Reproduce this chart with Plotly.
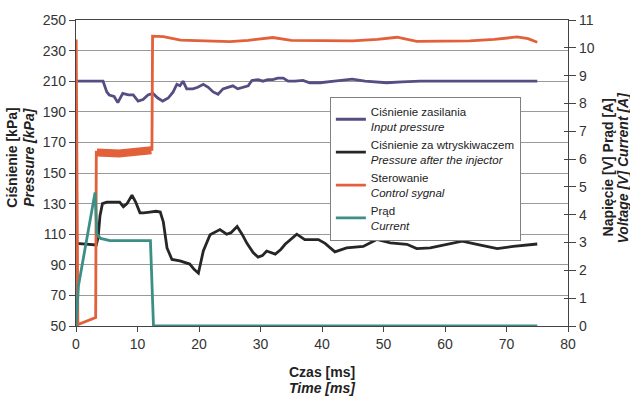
import plotly.graph_objects as go

# ---- data ----
t_input = [0, 4.4, 5.0, 5.4, 6.2, 6.8, 7.6, 8.5, 9.3, 10.1, 10.9, 11.7, 12.5, 13.3, 14.1, 15.0, 15.8,
           16.4, 16.9, 17.4, 18.0, 19.0, 19.8, 20.7, 21.5, 22.3, 23.1, 23.9, 24.7, 25.5, 26.3, 27.2,
           28.0, 28.6, 29.6, 30.4, 31.2, 32.0, 32.8, 33.7, 34.5, 35.6, 36.9, 38.0, 39.7, 42.0, 44.9,
           47.0, 50.5, 53.0, 56.0, 60.0, 65.0, 70.0, 75.0]
p_input = [210, 210, 203, 201, 200, 196, 202, 201, 201, 197, 198, 201, 202, 199, 197, 199, 203,
           208, 207, 210, 205, 205, 206, 208, 206, 203, 201.5, 205, 206, 207, 205, 206,
           207, 210.5, 211, 210, 211, 211, 212, 212, 210, 210, 210.5, 209, 209, 210, 211.3,
           210, 209, 209.5, 210, 210, 210, 210, 210]

t_after = [0, 3.3, 3.6, 3.9, 4.3, 5.0, 6.0, 7.1, 7.7, 8.3, 9.1, 9.7, 10.4, 11.0, 12.0, 13.0, 13.7,
           14.2, 14.8, 15.3, 15.6, 16.9, 18.0, 18.5, 19.2, 19.9, 20.7, 21.8, 23.4, 24.5, 25.2, 26.2,
           27.0, 27.8, 28.8, 29.6, 30.3, 31.0, 32.4, 33.3, 34.0, 35.0, 35.9, 37.2, 39.4, 40.5, 42.1,
           44.0, 46.7, 48.9, 51.1, 53.8, 55.4, 57.6, 60.3, 62.8, 65.2, 68.5, 71.1, 75.0]
p_after = [104, 103, 108, 122, 130, 131, 131, 131, 128, 130, 135.5, 131, 124, 124, 124.5, 125, 124.5,
           118, 101, 96, 93.5, 92.5, 91, 90.5, 87, 84.5, 99, 109.7, 113, 110, 111, 115,
           110, 104, 98, 95, 96, 99, 97, 100, 103.4, 107, 110, 106.5, 106.5, 104, 98.5,
           101, 102, 106.6, 104.3, 103.4, 100.6, 101, 103.4, 105.5, 103.4, 100.6, 102, 103.6]

t_control = [0, 0.03, 0.3, 3.2, 3.3, 7.0, 12.2, 12.35, 12.45, 14.2, 17, 20, 25, 28, 32, 35, 40, 45,
             49, 52.2, 55.4, 60, 64, 68, 71.7, 73.5, 75]
v_control = [0, 10.3, 0.05, 0.3, 6.25, 6.2, 6.35, 6.35, 10.42, 10.4, 10.28, 10.25, 10.22, 10.27,
             10.37, 10.27, 10.25, 10.25, 10.3, 10.38, 10.23, 10.24, 10.25, 10.3, 10.39, 10.33, 10.2]

t_band = [3.4, 7.0, 12.25]
v_band = [6.24, 6.2, 6.32]

t_current = [0, 0.4, 3.1, 3.4, 4.0, 5.5, 12.1, 12.6, 75]
i_current = [0, 1.45, 4.8, 3.3, 3.15, 3.07, 3.07, 0, 0]

names = ["Ciśnienie zasilania<br><i>Input pressure</i>",
         "Ciśnienie za wtryskiwaczem<br><i>Pressure after the injector</i>",
         "Sterowanie<br><i>Control sygnal</i>",
         "Prąd<br><i>Current</i>"]
colors = ["#564e83", "#262626", "#e2603a", "#3b8f84"]

FONT = "Liberation Sans, Arial, sans-serif"

fig = go.Figure()
fig.add_trace(go.Scatter(x=t_input, y=p_input, mode="lines", name=names[0],
                         line=dict(color=colors[0], width=2.8), yaxis="y"))
fig.add_trace(go.Scatter(x=t_after, y=p_after, mode="lines", name=names[1],
                         line=dict(color=colors[1], width=2.8), yaxis="y"))
fig.add_trace(go.Scatter(x=t_band, y=v_band, mode="lines", showlegend=False, hoverinfo="skip",
                         line=dict(color=colors[2], width=8), yaxis="y2"))
fig.add_trace(go.Scatter(x=t_control, y=v_control, mode="lines", name=names[2],
                         line=dict(color=colors[2], width=2.8), yaxis="y2"))
fig.add_trace(go.Scatter(x=t_current, y=i_current, mode="lines", name=names[3],
                         line=dict(color=colors[3], width=2.8), yaxis="y2"))

axis_font = dict(family=FONT, size=14, color="#333333")

fig.update_layout(
    width=630, height=401,
    margin=dict(l=76, r=62, t=15, b=75),
    paper_bgcolor="white", plot_bgcolor="white",
    font=dict(family=FONT, color="#222222"),
    showlegend=True,
    legend=dict(x=0.516, y=0.749, xanchor="left", yanchor="top",
                bgcolor="white", bordercolor="#808080", borderwidth=1,
                font=dict(family=FONT, size=11.5, color="#222222"),
                tracegroupgap=2),
    xaxis=dict(range=[0, 80], dtick=10, tick0=0, showgrid=False, zeroline=False,
               showline=True, linecolor="#444444", linewidth=1.3, mirror=True,
               ticks="outside", ticklen=5, tickcolor="#444444", tickfont=axis_font),
    yaxis=dict(range=[50, 250], dtick=20, tick0=50, showgrid=True, gridcolor="#9a9a9a",
               gridwidth=1, zeroline=False, showline=True, linecolor="#444444", linewidth=1.3,
               ticks="outside", ticklen=6, tickcolor="#444444", tickfont=axis_font),
    yaxis2=dict(range=[0, 11], dtick=1, tick0=0, overlaying="y", side="right", anchor="x",
                showgrid=False, zeroline=False, showline=True, linecolor="#444444", linewidth=1.3,
                ticks="outside", ticklen=7, tickcolor="#444444", tickfont=axis_font),
    yaxis3=dict(range=[0, 11], dtick=1, tick0=0, overlaying="y", side="right", anchor="x",
                showgrid=False, zeroline=False, showline=False, showticklabels=False,
                ticks="inside", ticklen=4, tickcolor="#444444"),
)

# dummy invisible trace to activate yaxis3
fig.add_trace(go.Scatter(x=[0], y=[0], yaxis="y3", mode="markers", marker=dict(opacity=0),
                         showlegend=False, hoverinfo="skip"))

title_font = dict(family=FONT, size=14, color="#222222")
ann = [
    dict(text="<b>Ciśnienie [kPa]</b>", x=-0.1301, y=0.55, textangle=-90),
    dict(text="<b><i>Pressure [kPa]</i></b>", x=-0.0955, y=0.55, textangle=-90),
    dict(text="<b>Napięcie [V] Prąd [A]</b>", x=1.0833, y=0.518, textangle=-90),
    dict(text="<b><i>Voltage [V] Current [A]</i></b>", x=1.1138, y=0.518, textangle=-90),
    dict(text="<b>Czas [ms]</b>", x=0.5, y=-0.151, textangle=0),
    dict(text="<b><i>Time [ms]</i></b>", x=0.5, y=-0.2026, textangle=0),
]
for a in ann:
    fig.add_annotation(xref="paper", yref="paper", showarrow=False, xanchor="center",
                       yanchor="middle", font=title_font, **a)

fig.write_html("out.html")
